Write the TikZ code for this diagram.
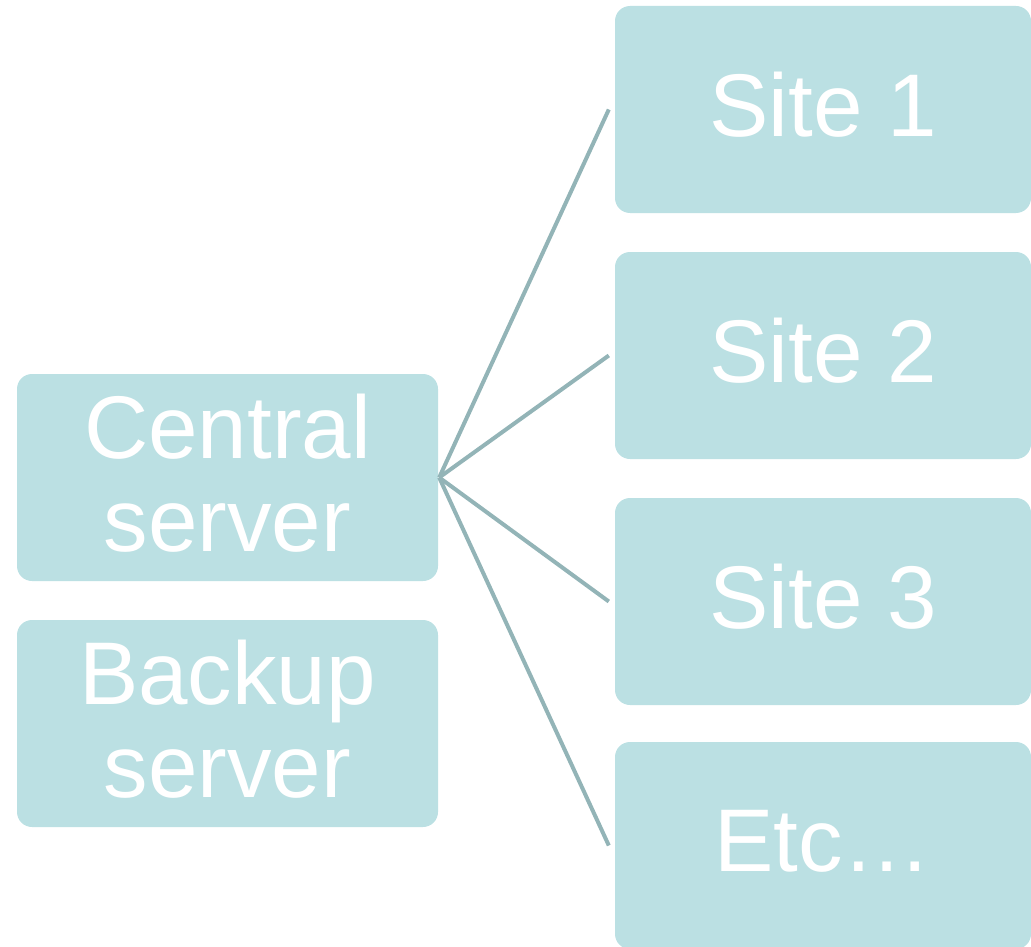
\documentclass[tikz,border=0pt]{standalone}
\usepackage{fontspec}
\setmainfont{Liberation Sans}
\definecolor{boxfill}{HTML}{BBE0E3}
\definecolor{linkcol}{HTML}{93B4B7}
\begin{document}
\begin{tikzpicture}[x=1pt,y=-1pt,
  box/.style={rectangle, rounded corners=15pt, fill=boxfill, draw=none,
    inner sep=0pt, text=white, align=center, text depth=10pt,
    font=\fontsize{89}{93}\selectfont},
  leftbox/.style={box, minimum width=421pt, minimum height=207pt},
  sitebox/.style={box, minimum width=416pt, minimum height=207pt},
  link/.style={draw=linkcol, line width=4pt}]
\useasboundingbox (0,0) rectangle (1031,947);
\begin{scope}
\clip (0,0) rectangle (1031,947);
\node[leftbox] (central) at (227.5,477.5) {Central\\server};
\node[leftbox] (backup) at (227.5,723.5) {Backup\\server};
\node[sitebox] (s1) at (823,109.5) {Site 1};
\node[sitebox] (s2) at (823,355.5) {Site 2};
\node[sitebox] (s3) at (823,601.5) {Site 3};
\node[sitebox] (s4) at (823,845.5) {Etc\ldots};
\foreach \s in {s1,s2,s3,s4}{
  \draw[link] ([xshift=1pt]central.east) -- ([xshift=-6pt]\s.west);
}
\end{scope}
\end{tikzpicture}
\end{document}
